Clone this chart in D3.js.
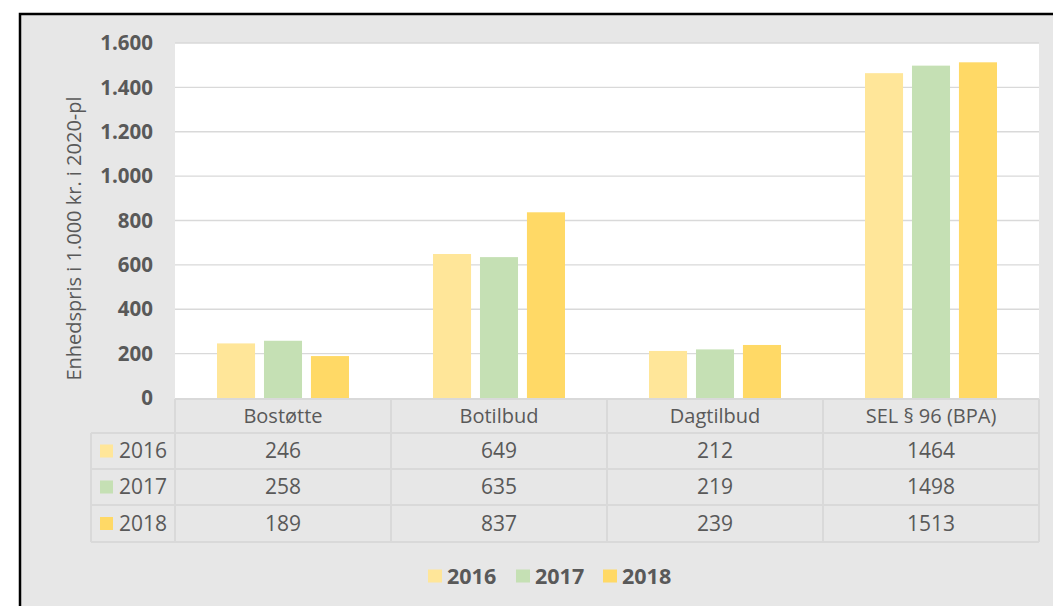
<!DOCTYPE html>
<html>
<head>
<meta charset="utf-8">
<script src="https://cdn.jsdelivr.net/npm/d3@7"></script>
<style>
  body { margin: 0; background: #fff; }
  svg text { font-family: "Open Sans", sans-serif; }
</style>
</head>
<body>
<div id="chart"></div>
<script>
// data
var categories = ["Bostøtte", "Botilbud", "Dagtilbud", "SEL § 96 (BPA)"];
var years = ["2016", "2017", "2018"];
var values2016 = [246, 649, 212, 1464];
var values2017 = [258, 635, 219, 1498];
var values2018 = [189, 837, 239, 1513];
var yTicks = [0, 200, 400, 600, 800, 1000, 1200, 1400, 1600];
var colors = ["#FFE699", "#C5E0B4", "#FFD966"];

var series = [values2016, values2017, values2018];

var W = 1053, H = 606;
var plot = { left: 175, right: 1039, top: 43, bottom: 398 };
var rowH = [34, 36, 36, 37]; // header + 3 rows
var txt = "#595959", grid = "#d9d9d9", bg = "#e7e7e7";

var svg = d3.select("#chart").append("svg")
    .attr("width", W).attr("height", H);

// outer frame
svg.append("rect")
    .attr("x", 20).attr("y", 14).attr("width", W + 10).attr("height", H)
    .attr("fill", bg).attr("stroke", "#000").attr("stroke-width", 2.5);

// plot area
svg.append("rect")
    .attr("x", plot.left).attr("y", plot.top)
    .attr("width", plot.right - plot.left).attr("height", plot.bottom - plot.top)
    .attr("fill", "#fff");

var y = d3.scaleLinear().domain([0, 1600]).range([plot.bottom, plot.top]);
var x0 = d3.scaleBand().domain(categories).range([plot.left, plot.right]);
var x1 = d3.scaleBand().domain(years).range([42, x0.bandwidth() - 42]).paddingInner(0.19);

// gridlines
svg.append("g").selectAll("line")
    .data(yTicks.slice(1))
    .enter().append("line")
    .attr("x1", plot.left).attr("x2", plot.right)
    .attr("y1", function(d) { return y(d); }).attr("y2", function(d) { return y(d); })
    .attr("stroke", grid).attr("stroke-width", 1.3);

// y tick labels
var fmt = function(d) { return d3.format(",")(d).replace(/,/g, "."); };
svg.append("g").selectAll("text")
    .data(yTicks)
    .enter().append("text")
    .attr("x", 153).attr("y", function(d) { return y(d); })
    .attr("dy", "0.35em").attr("text-anchor", "end")
    .attr("font-size", 20.5).attr("font-weight", "bold").attr("fill", txt)
    .text(fmt);

// axis title
svg.append("text")
    .attr("transform", "translate(81," + ((plot.top + plot.bottom) / 2 + 18) + ") rotate(-90)")
    .attr("text-anchor", "middle").attr("font-size", 20).attr("fill", txt)
    .text("Enhedspris i 1.000 kr. i 2020-pl");

// bars
var groups = svg.append("g").selectAll("g")
    .data(categories)
    .enter().append("g")
    .attr("transform", function(d) { return "translate(" + x0(d) + ",0)"; });

groups.selectAll("rect")
    .data(function(d, i) { return years.map(function(yr, j) { return { year: yr, value: series[j][i], j: j }; }); })
    .enter().append("rect")
    .attr("x", function(d) { return x1(d.year); })
    .attr("width", x1.bandwidth())
    .attr("y", function(d) { return y(d.value); })
    .attr("height", function(d) { return plot.bottom - y(d.value); })
    .attr("fill", function(d) { return colors[d.j]; });

// data table
var rowY = [plot.bottom + 1];
rowH.forEach(function(h, i) { rowY.push(rowY[i] + h); });
var tableLeft = 91;

var tbl = svg.append("g");
// cell borders
tbl.append("g").selectAll("line")
    .data(rowY)
    .enter().append("line")
    .attr("x1", function(d, i) { return i === 0 ? plot.left : tableLeft; })
    .attr("x2", plot.right)
    .attr("y1", function(d) { return d; }).attr("y2", function(d) { return d; })
    .attr("stroke", grid).attr("stroke-width", 2);
var vx = [plot.left].concat(categories.map(function(c) { return x0(c) + x0.bandwidth(); }));
tbl.append("g").selectAll("line")
    .data(vx)
    .enter().append("line")
    .attr("x1", function(d) { return d; }).attr("x2", function(d) { return d; })
    .attr("y1", rowY[0]).attr("y2", rowY[4])
    .attr("stroke", grid).attr("stroke-width", 2);
tbl.append("line")
    .attr("x1", tableLeft).attr("x2", tableLeft)
    .attr("y1", rowY[1]).attr("y2", rowY[4])
    .attr("stroke", grid).attr("stroke-width", 2);

// header labels
tbl.append("g").selectAll("text")
    .data(categories)
    .enter().append("text")
    .attr("x", function(d) { return x0(d) + x0.bandwidth() / 2; })
    .attr("y", (rowY[0] + rowY[1]) / 2).attr("dy", "0.35em")
    .attr("text-anchor", "middle").attr("font-size", 20).attr("fill", txt)
    .text(function(d) { return d; });

// rows
years.forEach(function(yr, j) {
  var cy = (rowY[j + 1] + rowY[j + 2]) / 2;
  tbl.append("rect")
      .attr("x", 100).attr("y", cy - 6.5).attr("width", 13).attr("height", 13)
      .attr("fill", colors[j]);
  tbl.append("text")
      .attr("x", 119).attr("y", cy).attr("dy", "0.35em")
      .attr("font-size", 21).attr("fill", txt).text(yr);
  tbl.append("g").selectAll("text")
      .data(series[j])
      .enter().append("text")
      .attr("x", function(d, i) { return x0(categories[i]) + x0.bandwidth() / 2; })
      .attr("y", cy).attr("dy", "0.35em")
      .attr("text-anchor", "middle").attr("font-size", 21).attr("fill", txt)
      .text(function(d) { return d; });
});

// legend
var legend = svg.append("g").attr("transform", "translate(428,576)");
var lx = [0, 88, 175];
years.forEach(function(yr, j) {
  legend.append("rect")
      .attr("x", lx[j]).attr("y", -6.5).attr("width", 14).attr("height", 13)
      .attr("fill", colors[j]);
  legend.append("text")
      .attr("x", lx[j] + 19).attr("y", 0).attr("dy", "0.35em")
      .attr("font-size", 21.5).attr("font-weight", "bold").attr("fill", txt)
      .text(yr);
});
</script>
</body>
</html>
